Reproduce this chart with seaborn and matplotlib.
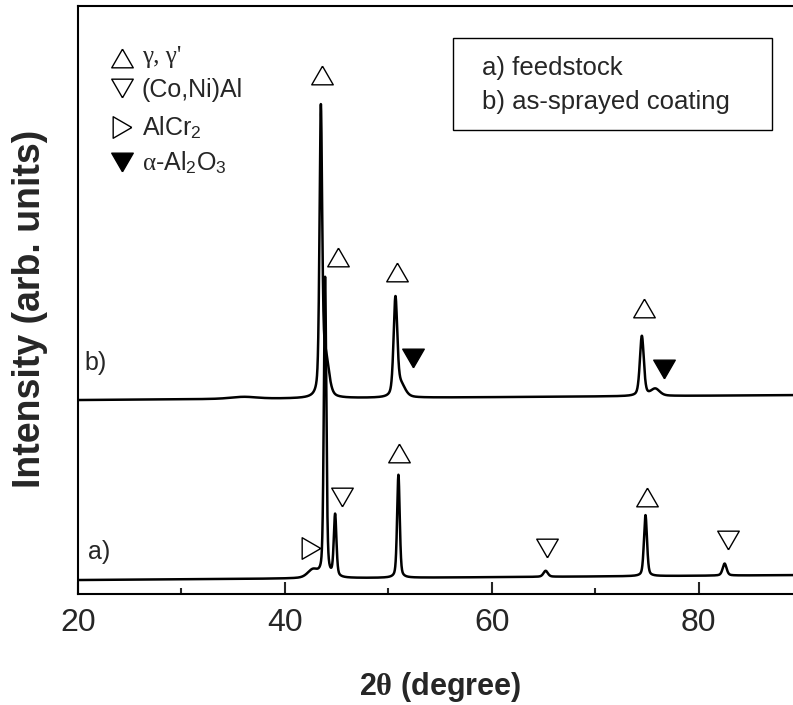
import numpy as np
import pandas as pd
import matplotlib.pyplot as plt
import seaborn as sns
from matplotlib.patches import Rectangle

# a) feedstock: peak positions (2theta), heights and widths
peaks_a_pos = [42.7, 43.88, 44.85, 50.97, 65.2, 74.85, 82.5]
peaks_a_height = [8, 300, 62, 103, 6, 61, 12]
peaks_a_fwhm = [1.2, 0.28, 0.3, 0.3, 0.5, 0.35, 0.45]
base_a = [14, 19]      # background at 20 and 90 deg

# b) as-sprayed coating
peaks_b_pos = [36.0, 43.47, 43.9, 50.68, 51.2, 74.5, 75.8]
peaks_b_height = [2, 276, 40, 96, 12, 60, 7]
peaks_b_fwhm = [3.0, 0.3, 0.8, 0.42, 1.0, 0.45, 1.0]
base_b = [194, 199]

# phase markers
gamma_x = [43.56, 45.1, 50.88, 74.7, 51.0, 74.96]
gamma_y = [519, 337, 322, 286, 141, 97]
conial_x = [45.5, 65.3, 82.8]
conial_y = [97, 46, 54]
alcr2_x = [42.49]
alcr2_y = [46]
alumina_x = [52.39, 76.63]
alumina_y = [236, 225]

legend_labels = ["γ, γ'", "(Co,Ni)Al", r"AlCr$_2$", r"$\alpha$-Al$_2$O$_3$"]
box_labels = ["a) feedstock", "b) as-sprayed coating"]


def pattern(x, pos, height, fwhm, base, eta=0.4):
    y = np.linspace(base[0], base[1], len(x))
    for p, h, w in zip(pos, height, fwhm):
        lor = 1.0 / (1 + ((x - p) / (w / 2)) ** 2)
        gau = np.exp(-4 * np.log(2) * ((x - p) / w) ** 2)
        y = y + h * (eta * lor + (1 - eta) * gau)
    return y


two_theta = np.arange(20, 90.001, 0.01)
df = pd.concat([
    pd.DataFrame({'two_theta': two_theta, 'intensity': pattern(two_theta, peaks_a_pos, peaks_a_height, peaks_a_fwhm, base_a), 'sample': 'a'}),
    pd.DataFrame({'two_theta': two_theta, 'intensity': pattern(two_theta, peaks_b_pos, peaks_b_height, peaks_b_fwhm, base_b), 'sample': 'b'}),
])

sns.set_style('ticks')
plt.rcParams['font.family'] = ['Liberation Sans', 'DejaVu Sans']
plt.rcParams['mathtext.fontset'] = 'custom'
plt.rcParams['mathtext.rm'] = 'Liberation Sans'
plt.rcParams['mathtext.it'] = 'Liberation Serif'
plt.rcParams['mathtext.bf'] = 'Liberation Serif:bold'
plt.rcParams['mathtext.bfit'] = 'Liberation Serif:bold'

fig = plt.figure(figsize=(7.93, 7.05), dpi=100)
ax = fig.add_axes([0.0984, 0.1574, 0.9016, 0.8340])

sns.lineplot(data=df, x='two_theta', y='intensity', hue='sample', palette=['black', 'black'],
             estimator=None, sort=False, legend=False, linewidth=1.8, ax=ax)

# triangles with the bounding box centred on the point
tri_up = [(0, 0.75), (-0.866, -0.75), (0.866, -0.75), (0, 0.75)]
tri_down = [(0, -0.75), (-0.866, 0.75), (0.866, 0.75), (0, -0.75)]
tri_right = [(0.75, 0), (-0.75, 0.866), (-0.75, -0.866), (0.75, 0)]
ms = 15.5
mk = dict(linestyle='none', ms=ms, mec='black', mew=1.0, zorder=5)

ax.plot(gamma_x, gamma_y, marker=tri_up, mfc='white', **mk)
ax.plot(conial_x, conial_y, marker=tri_down, mfc='white', **mk)
ax.plot(alcr2_x, alcr2_y, marker=tri_right, mfc='white', **mk)
ax.plot(alumina_x, alumina_y, marker=tri_down, mfc='black', **mk)

# phase legend, top left
leg_marker_y = [0.9116, 0.8605, 0.7942, 0.7347]
leg_text_y = [0.9031, 0.8452, 0.7806, 0.7211]
leg_markers = [(tri_up, 'white'), (tri_down, 'white'), (tri_right, 'white'), (tri_down, 'black')]
for (m, fc), my, ty, lab in zip(leg_markers, leg_marker_y, leg_text_y, legend_labels):
    ax.plot([0.061], [my], marker=m, mfc=fc, transform=ax.transAxes, clip_on=False, **mk)
    fam = ['Liberation Serif'] if lab.startswith('γ') else ['Liberation Sans', 'DejaVu Sans']
    ax.text(0.089, ty, lab, transform=ax.transAxes, fontsize=18, va='baseline', ha='left', family=fam)

# sample box, top right
ax.add_patch(Rectangle((0.5242, 0.7891), 0.4464, 0.1565, transform=ax.transAxes,
                       fill=False, edgecolor='black', linewidth=1.0))
ax.text(0.5648, 0.8946, box_labels[0], transform=ax.transAxes, fontsize=18.5, va='center')
ax.text(0.5648, 0.8367, box_labels[1], transform=ax.transAxes, fontsize=18.5, va='center')

# trace labels
ax.text(20.65, 231, 'b)', fontsize=18, va='center', ha='left')
ax.text(20.95, 42, 'a)', fontsize=18, va='center', ha='left')

ax.set_xlim(20, 89.11)
ax.set_ylim(0, 588)
ax.set_xticks([20, 40, 60, 80])
ax.set_xticks([30, 50, 70], minor=True)
ax.set_yticks([])
ax.tick_params(axis='x', which='major', direction='in', length=8.6, width=1.5, labelsize=23, pad=10)
ax.tick_params(axis='x', which='minor', direction='in', length=4.3, width=1.5)
for side in ['left', 'bottom', 'top']:
    ax.spines[side].set_linewidth(1.5)
    ax.spines[side].set_color('black')
ax.spines['right'].set_visible(False)

ax.set_xlabel(r'2$\boldsymbol{\theta}$ (degree)', fontsize=22, fontweight='bold')
ax.set_ylabel('Intensity (arb. units)', fontsize=27, fontweight='bold')
ax.xaxis.set_label_coords(0.506, -0.130)
ax.yaxis.set_label_coords(-0.042, 0.485)

fig.savefig('out.png', dpi=100)
